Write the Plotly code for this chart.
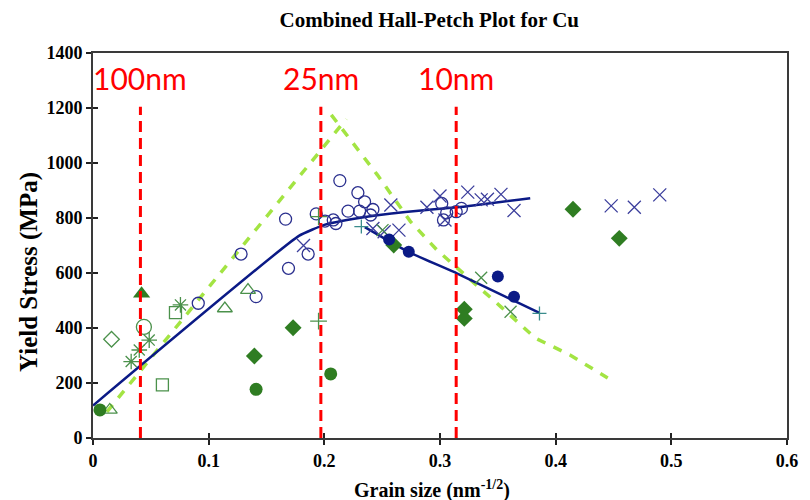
import plotly.graph_objects as go

# Hall-Petch data for Cu: x = d^-1/2 (nm^-1/2), y = yield stress (MPa)

# open navy circles
circ_open_x = [0.091, 0.128, 0.141, 0.1665, 0.169, 0.186, 0.193, 0.2006, 0.2077, 0.21, 0.2134,
               0.2205, 0.229, 0.2305, 0.2348, 0.240, 0.242, 0.3015, 0.303, 0.3058, 0.314, 0.3185]
circ_open_y = [490, 669, 514, 796, 617, 669, 815, 789, 793, 780, 936,
               825, 892, 825, 859, 811, 831, 853, 793, 819, 823, 835]

# navy x marks
x_blue_x = [0.182, 0.242, 0.2517, 0.2575, 0.2645, 0.2887, 0.300, 0.3043, 0.324, 0.3356,
            0.341, 0.3527, 0.364, 0.448, 0.468, 0.490]
x_blue_y = [700, 762, 750, 847, 756, 839, 880, 793, 894, 866,
            868, 886, 827, 844, 839, 884]

# filled navy circles
circ_navy_x = [0.256, 0.273, 0.350, 0.364]
circ_navy_y = [722, 677, 587, 514]

# teal plus marks
plus_teal_x = [0.232, 0.386]
plus_teal_y = [769, 453]

# green plus marks
plus_green_x = [0.195, 0.195]
plus_green_y = [805, 425]

# green x marks
x_green_x = [0.2503, 0.3356, 0.361]
x_green_y = [756, 583, 459]

# filled green diamonds
diam_green_x = [0.1395, 0.173, 0.260, 0.321, 0.321, 0.415, 0.455]
diam_green_y = [298, 401, 702, 468, 435, 832, 726]

# filled green circles
circ_green_x = [0.006, 0.141, 0.2055]
circ_green_y = [102, 177, 233]

# open green triangles
tri_open_x = [0.0145, 0.114, 0.134]
tri_open_y = [102, 471, 538]

# filled green triangle
tri_fill_x = [0.042]
tri_fill_y = [525]

# open green circle
circ_green_open_x = [0.044]
circ_green_open_y = [404]

# open green diamond
diam_open_x = [0.016]
diam_open_y = [359]

# green asterisks
ast_x = [0.033, 0.040, 0.0486, 0.0756]
ast_y = [278, 320, 356, 484]

# open green squares
sq_open_x = [0.0713, 0.060]
sq_open_y = [456, 193]

# fitted curves
fit_up_x = [0.0, 0.178, 0.200, 0.230, 0.270, 0.320, 0.378]
fit_up_y = [118, 735, 775, 800, 822, 841, 872]
fit_down_x = [0.235, 0.273, 0.315, 0.386]
fit_down_y = [767, 676, 598, 455]

# model curves (dashed)
model_left_x = [0.012, 0.219]
model_left_y = [95, 1160]
model_right_x = [0.206, 0.246, 0.2745, 0.2973, 0.3527, 0.3825, 0.4124, 0.445]
model_right_y = [1175, 956, 787, 684, 477, 363, 302, 218]

# grain-size reference lines
ref_x = [0.041, 0.197, 0.314]
ref_labels = ["100nm", "25nm", "10nm"]
ref_top = 1205
ref_label_y = 1309

NAVY = "#0b1a86"
NAVY_OPEN = "#2a2f8e"
NAVY_X = "#3b3e9c"
GREEN = "#2f7d22"
GREEN_OPEN = "#4b914b"
TEAL = "#3a8c8c"
LIME = "#a3e443"
RED = "#ff0000"

fig = go.Figure()

for mx, my in [(model_left_x, model_left_y), (model_right_x, model_right_y)]:
    fig.add_trace(go.Scatter(x=mx, y=my, mode="lines",
                             line=dict(color=LIME, width=3.5, dash="9px,9px")))

for fx, fy in [(fit_up_x, fit_up_y), (fit_down_x, fit_down_y)]:
    fig.add_trace(go.Scatter(x=fx, y=fy, mode="lines",
                             line=dict(color=NAVY, width=2.5, shape="spline", smoothing=0.4)))


def pts(x, y, symbol, color, size, lw=1.3):
    fig.add_trace(go.Scatter(
        x=x, y=y, mode="markers",
        marker=dict(symbol=symbol, color=color, size=size,
                    line=dict(color=color, width=lw)),
    ))


pts(circ_open_x, circ_open_y, "circle-open", NAVY_OPEN, 12)
pts(x_blue_x, x_blue_y, "x-thin-open", NAVY_X, 13)
pts(x_green_x, x_green_y, "x-thin-open", GREEN_OPEN, 12)
pts(plus_green_x, plus_green_y, "cross-thin-open", GREEN_OPEN, 12)
pts(plus_teal_x, plus_teal_y, "cross-thin-open", TEAL, 10)
pts(ast_x, ast_y, "asterisk-open", GREEN_OPEN, 13)
pts(tri_open_x, tri_open_y, "triangle-up-open", GREEN_OPEN, 13)
pts(sq_open_x, sq_open_y, "square-open", GREEN_OPEN, 12)
pts(diam_open_x, diam_open_y, "diamond-open", GREEN_OPEN, 12)
pts(circ_green_open_x, circ_green_open_y, "circle-open", GREEN_OPEN, 15)
pts(tri_fill_x, tri_fill_y, "triangle-up", GREEN, 15, 0)
pts(diam_green_x, diam_green_y, "diamond", GREEN, 13, 0)
pts(circ_green_x, circ_green_y, "circle", GREEN, 13, 0)
pts(circ_navy_x, circ_navy_y, "circle", NAVY, 12, 0)

for rx, lab in zip(ref_x, ref_labels):
    fig.add_trace(go.Scatter(x=[rx, rx], y=[0, ref_top], mode="lines",
                             line=dict(color=RED, width=3, dash="11px,6px")))
    fig.add_annotation(x=rx, y=ref_label_y, xref="x", yref="y", text=lab,
                       showarrow=False, xanchor="center", yanchor="middle",
                       font=dict(family="Lato", size=30, color=RED))

# invisible trace to carry the inner-tick overlay axes
fig.add_trace(go.Scatter(x=[0], y=[0], xaxis="x2", yaxis="y2", mode="markers",
                         marker=dict(opacity=0), hoverinfo="skip"))

serif = "Liberation Serif"
tickfont = dict(family=serif, size=18, color="black", weight="bold")

axis_common = dict(showgrid=False, zeroline=False, showline=True, linecolor="#3a3a3a",
                   linewidth=2, mirror=True, ticks="outside", ticklen=5, tickwidth=1.5,
                   tickcolor="#222", tickfont=tickfont)

fig.update_layout(
    width=810, height=500,
    margin=dict(l=93, r=13, t=53, b=62),
    paper_bgcolor="white", plot_bgcolor="white",
    showlegend=False,
    title=dict(text="Combined Hall-Petch Plot for Cu", x=0.53, xref="container",
               xanchor="center", y=0.96, yref="container", yanchor="middle",
               font=dict(family=serif, size=21, color="black", weight="bold")),
    xaxis=dict(range=[0, 0.6], dtick=0.1, tick0=0, **axis_common),
    yaxis=dict(range=[0, 1400], dtick=200, tick0=0, **axis_common),
    xaxis2=dict(overlaying="x", matches="x", range=[0, 0.6], dtick=0.1, tick0=0,
                side="bottom", ticks="inside", ticklen=5, tickwidth=1.5, tickcolor="#222",
                showticklabels=False, showgrid=False, zeroline=False, showline=False),
    yaxis2=dict(overlaying="y", matches="y", range=[0, 1400], dtick=200, tick0=0,
                side="left", ticks="inside", ticklen=5, tickwidth=1.5, tickcolor="#222",
                showticklabels=False, showgrid=False, zeroline=False, showline=False),
)

fig.add_annotation(text="Yield Stress (MPa)", xref="paper", yref="paper",
                   x=(28 - 93) / 704, y=(438 - 272) / 385, textangle=-90,
                   showarrow=False, xanchor="center", yanchor="middle",
                   font=dict(family=serif, size=25, color="black", weight="bold"))
fig.add_annotation(text="Grain size (nm<sup>-1/2</sup>)", xref="paper", yref="paper",
                   x=(437 - 93) / 704, y=-(489 - 438) / 385,
                   showarrow=False, xanchor="center", yanchor="middle",
                   font=dict(family=serif, size=20, color="black", weight="bold"))

fig.write_html("out.html")
